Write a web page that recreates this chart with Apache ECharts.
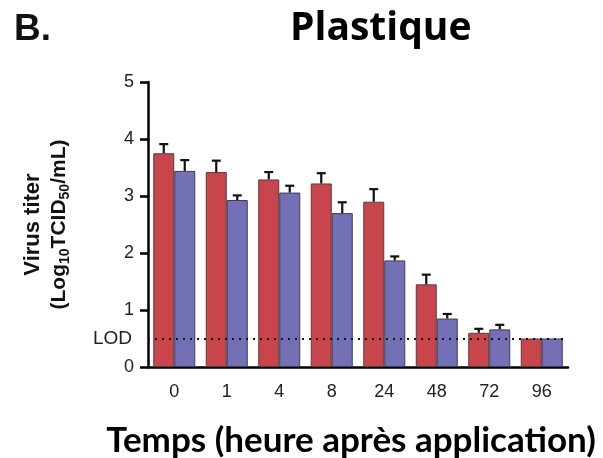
<!DOCTYPE html>
<html>
<head>
<meta charset="utf-8">
<script src="https://cdn.jsdelivr.net/npm/echarts@6/dist/echarts.min.js"></script>
<style>
html, body { margin: 0; padding: 0; background: #fff; }
#chart { width: 603px; height: 458px; }
</style>
</head>
<body>
<div id="chart"></div>
<script>
// Hours after application
const categories = ['0', '1', '4', '8', '24', '48', '72', '96'];
// Mean titers (log10 TCID50/mL) for the two groups
const redMeans  = [3.75, 3.42, 3.29, 3.22, 2.90, 1.45, 0.60, 0.50];
const blueMeans = [3.44, 2.93, 3.06, 2.70, 1.87, 0.85, 0.66, 0.50];
// Upper error (SD)
const redErr  = [0.16, 0.20, 0.13, 0.18, 0.22, 0.17, 0.07, 0];
const blueErr = [0.19, 0.08, 0.12, 0.19, 0.07, 0.08, 0.08, 0];
// Limit of detection
const lodValue = 0.5;
const yTicks = [0, 1, 2, 3, 4, 5];

const RED = '#c8464b';
const BLUE = '#7470b5';
const BAR_FRACTION = 0.4; // each bar's share of the category band

function errorSeries(means, errs, side) {
  return {
    type: 'custom',
    z: 5,
    data: means.map((m, i) => [i, m, errs[i]]),
    renderItem: function (params, api) {
      const err = api.value(2);
      if (!err) return null;
      const band = api.size([1, 0])[0];
      const offset = side * band * BAR_FRACTION / 2;
      const base = api.coord([api.value(0), api.value(1)]);
      const top = api.coord([api.value(0), api.value(1) + err]);
      const x = base[0] + offset;
      const half = 4.5;
      const st = { stroke: '#111', lineWidth: 2.2 };
      return {
        type: 'group',
        children: [
          { type: 'line', shape: { x1: x, y1: base[1], x2: x, y2: top[1] }, style: st },
          { type: 'line', shape: { x1: x - half, y1: top[1], x2: x + half, y2: top[1] }, style: st }
        ]
      };
    }
  };
}

const tickFont = { fontFamily: 'Liberation Sans', fontSize: 18, color: '#222' };
const nameFont = { fontFamily: 'Liberation Sans', fontWeight: 'bold', fontSize: 21, color: '#111', lineHeight: 26 };

const chart = echarts.init(document.getElementById('chart'), null, { renderer: 'canvas' });
chart.setOption({
  animation: false,
  backgroundColor: '#fff',
  title: [
    {
      text: 'B.', left: 9, top: 6,
      textStyle: { fontFamily: 'Liberation Sans', fontWeight: 'bold', fontSize: 37, color: '#111' }
    },
    {
      text: 'Plastique', left: 285, top: 4,
      textStyle: { fontFamily: 'Open Sans', fontWeight: 'bold', fontSize: 39, color: '#000' }
    }
  ],
  grid: { left: 148, right: 35, top: 82, bottom: 91, containLabel: false, outerBoundsMode: 'none' },
  xAxis: {
    type: 'category',
    data: categories,
    name: 'Temps (heure après application)',
    nameLocation: 'middle',
    nameGap: 56,
    nameTextStyle: { fontFamily: 'Lato', fontWeight: 'bold', fontSize: 35, color: '#000', padding: [0, 14, 0, 0] },
    axisLine: { lineStyle: { color: '#000', width: 2.5 } },
    axisTick: { alignWithLabel: true, length: 8, lineStyle: { color: '#000', width: 2.5 } },
    axisLabel: Object.assign({ margin: 16 }, tickFont)
  },
  yAxis: {
    type: 'value',
    min: yTicks[0],
    max: yTicks[yTicks.length - 1],
    interval: 1,
    name: '{a|Virus titer}\n{b|(Log}{s|10}{b|TCID}{s|50}{b|/mL)}',
    nameLocation: 'middle',
    nameRotate: 90,
    nameGap: 76,
    nameTextStyle: {
      rich: {
        a: Object.assign({}, nameFont, { fontSize: 22 }),
        b: nameFont,
        s: Object.assign({}, nameFont, { fontSize: 14, verticalAlign: 'bottom', padding: [8, 0, 0, 0] })
      }
    },
    splitLine: { show: false },
    axisLine: { show: true, lineStyle: { color: '#000', width: 2.5 } },
    axisTick: { show: true, length: 8, lineStyle: { color: '#000', width: 2.5 } },
    axisLabel: Object.assign({ margin: 14 }, tickFont)
  },
  series: [
    {
      type: 'bar',
      data: redMeans,
      barWidth: (BAR_FRACTION * 100) + '%',
      barGap: '0%',
      itemStyle: { color: RED, borderColor: '#5a3a3c', borderWidth: 1 },
      markLine: {
        silent: true,
        symbol: 'none',
        z: 10,
        lineStyle: { color: '#111', type: [2, 5], width: 2 },
        label: Object.assign({ position: 'start', distance: 16, formatter: 'LOD' }, tickFont, { fontSize: 19 }),
        data: [{ yAxis: lodValue }]
      }
    },
    {
      type: 'bar',
      data: blueMeans,
      barWidth: (BAR_FRACTION * 100) + '%',
      barGap: '0%',
      itemStyle: { color: BLUE, borderColor: '#3d3b5a', borderWidth: 1 }
    },
    errorSeries(redMeans, redErr, -1),
    errorSeries(blueMeans, blueErr, 1)
  ]
});
</script>
</body>
</html>
